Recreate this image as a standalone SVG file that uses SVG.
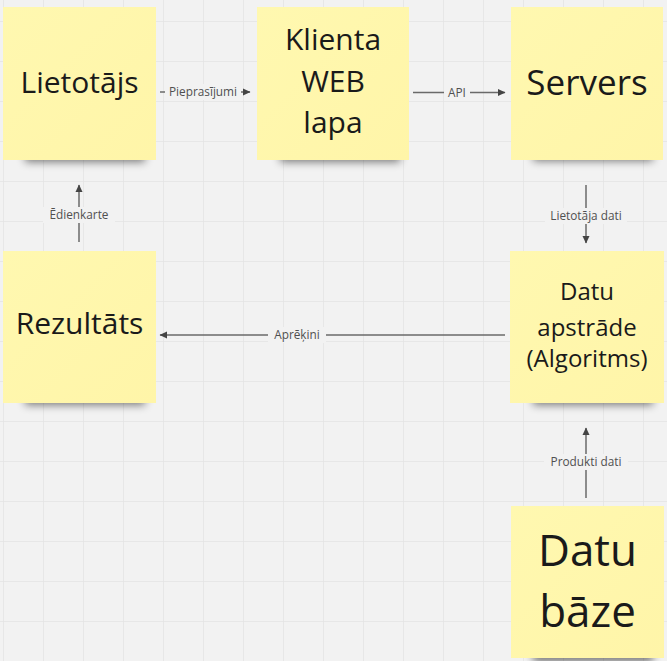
<svg xmlns="http://www.w3.org/2000/svg" width="667" height="661" viewBox="0 0 667 661">
<defs>
<pattern id="grid" x="3" y="21" width="40" height="40" patternUnits="userSpaceOnUse">
<path d="M0 0H40M0 0V40" fill="none" stroke="#e4e4e4" stroke-width="1.5"/>
</pattern>
<filter id="sh" x="-20%" y="-100%" width="140%" height="300%">
<feGaussianBlur stdDeviation="4"/>
</filter>
<linearGradient id="ng" x1="0" y1="0" x2="1" y2="1">
<stop offset="0" stop-color="#fff8b0"/>
<stop offset="1" stop-color="#fff5a8"/>
</linearGradient>
<marker id="ah" viewBox="0 0 8 8" refX="7" refY="4" markerWidth="8" markerHeight="8" markerUnits="userSpaceOnUse" orient="auto">
<path d="M0 0.5L7.5 4L0 7.5Z" fill="#444"/>
</marker>
</defs>
<style>
.note{fill:url(#ng)}
.shadow{fill:#000;opacity:0.5;filter:url(#sh)}
.t{font-family:"Open Sans","Noto Sans","DejaVu Sans",sans-serif;fill:#1a1a1a;text-anchor:middle}
.c{fill:none;stroke:#6a6a6a;stroke-width:1.5}
.lbg{fill:#f2f2f2}
.l{font-family:"Open Sans","Noto Sans","DejaVu Sans",sans-serif;font-size:11.8px;fill:#505050;text-anchor:middle}
</style>
<rect width="667" height="661" fill="#f2f2f2"/>
<rect width="667" height="661" fill="url(#grid)"/>

<g id="connectors">
<line class="c" x1="160" y1="92" x2="250" y2="92" marker-end="url(#ah)"/>
<rect class="lbg" x="165" y="84" width="76" height="16"/>
<text class="l" x="203" y="96">Pieprasījumi</text>

<line class="c" x1="413" y1="92.5" x2="505" y2="92.5" marker-end="url(#ah)"/>
<rect class="lbg" x="444" y="85" width="26" height="16"/>
<text class="l" x="457" y="96.5">API</text>

<line class="c" x1="79" y1="242" x2="79" y2="185" marker-end="url(#ah)"/>
<rect class="lbg" x="43" y="207" width="72" height="16"/>
<text class="l" x="79" y="219">Ēdienkarte</text>

<line class="c" x1="586" y1="185" x2="586" y2="243" marker-end="url(#ah)"/>
<rect class="lbg" x="545" y="208" width="82" height="16"/>
<text class="l" x="586" y="220">Lietotāja dati</text>

<line class="c" x1="505" y1="335" x2="160" y2="335" marker-end="url(#ah)"/>
<rect class="lbg" x="268" y="327" width="58" height="16"/>
<text class="l" x="297" y="339">Aprēķini</text>

<line class="c" x1="586" y1="498" x2="586" y2="428" marker-end="url(#ah)"/>
<rect class="lbg" x="544" y="454" width="84" height="16"/>
<text class="l" x="586" y="466">Produkti dati</text>
</g>

<g id="lietotajs">
<rect class="shadow" x="25" y="148" width="120" height="14"/>
<rect class="note" x="3" y="7" width="153" height="153"/>
<text class="t" x="79.5" y="93" font-size="30">Lietotājs</text>
</g>

<g id="klienta">
<rect class="shadow" x="280" y="148" width="120" height="14"/>
<rect class="note" x="257" y="7" width="152" height="153"/>
<text class="t" x="333" font-size="30"><tspan x="333" y="50">Klienta</tspan><tspan x="333" y="92">WEB</tspan><tspan x="333" y="133">lapa</tspan></text>
</g>

<g id="servers">
<rect class="shadow" x="533" y="148" width="120" height="13"/>
<rect class="note" x="511" y="7" width="152" height="153"/>
<text class="t" x="587" y="95" font-size="35">Servers</text>
</g>

<g id="rezultats">
<rect class="shadow" x="25" y="391" width="120" height="14"/>
<rect class="note" x="3" y="251" width="153" height="152"/>
<text class="t" x="79.5" y="334" font-size="30">Rezultāts</text>
</g>

<g id="apstrade">
<rect class="shadow" x="533" y="391" width="120" height="14"/>
<rect class="note" x="510" y="251" width="154" height="152"/>
<text class="t" x="587" font-size="24"><tspan x="587" y="300">Datu</tspan><tspan x="587" y="335.5">apstrāde</tspan><tspan x="587" y="367">(Algoritms)</tspan></text>
</g>

<g id="datubaze">
<rect class="shadow" x="533" y="650" width="120" height="12"/>
<rect class="note" x="511" y="506" width="153" height="152"/>
<text class="t" x="587.5" font-size="44"><tspan x="587.5" y="566">Datu</tspan><tspan x="587.5" y="627">bāze</tspan></text>
</g>
</svg>
